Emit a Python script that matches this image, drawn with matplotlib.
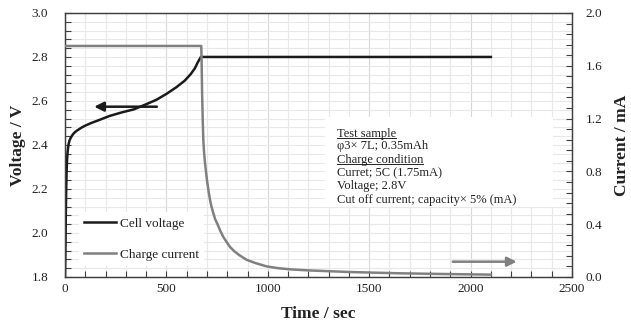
"""
Charge curve: cell voltage and charge current against time
"""

import matplotlib
matplotlib.use('Agg')
import matplotlib.pyplot as plt
from matplotlib.lines import Line2D
from matplotlib.patches import Rectangle
from matplotlib.ticker import MultipleLocator

# Cell voltage (V) against time (sec)
time_v = [0, 2, 4, 6, 8, 10, 13, 17, 22, 28, 35, 45, 60, 80, 100, 130, 170, 220, 280, 340,
          400, 450, 500, 550, 590, 620, 640, 655, 665, 670, 2100]
volt = [1.80, 1.92, 2.08, 2.20, 2.28, 2.33, 2.37, 2.40, 2.42, 2.432, 2.443, 2.455, 2.466, 2.478,
        2.488, 2.50, 2.514, 2.532, 2.548, 2.562, 2.585, 2.605, 2.632, 2.663, 2.692, 2.722,
        2.748, 2.776, 2.792, 2.80, 2.80]

# Charge current (mA) against time (sec)
time_i = [0, 672, 674, 676, 679, 682, 686, 690, 695, 700, 708, 715, 722, 731, 740, 752, 764,
          780, 797, 814, 835, 860, 896, 940, 995, 1050, 1110, 1200, 1300, 1400, 1520, 1650,
          1850, 2100]
curr = [1.75, 1.75, 1.60, 1.40, 1.20, 1.04, 0.94, 0.87, 0.80, 0.735, 0.65, 0.585, 0.535,
        0.485, 0.44, 0.40, 0.356, 0.305, 0.265, 0.227, 0.195, 0.165, 0.13, 0.105, 0.08,
        0.067, 0.058, 0.05, 0.044, 0.038, 0.033, 0.028, 0.023, 0.018]

# Arrows: (tail, head) in data coords
arrow_v = ((453, 2.574), (144, 2.574))
arrow_i = ((1912, 0.116), (2227, 0.116))

# Note lines, with a flag for underlined headings
note_lines = [
    ('Test sample', True),
    ('φ3× 7L; 0.35mAh', False),
    ('Charge condition', True),
    ('Curret; 5C (1.75mA)', False),
    ('Voltage; 2.8V', False),
    ('Cut off current; capacity× 5% (mA)', False),
]

plt.rcParams['font.family'] = ['Liberation Serif', 'DejaVu Serif']

spine_col = '#404040'
text_col = '#222222'

fig = plt.figure(figsize=(6.31, 3.28), dpi=100)
ax = fig.add_axes([0.103, 0.1555, 0.8035, 0.805])
ax2 = ax.twinx()

# Axis limits and ticks
ax.set_xlim(0, 2500)
ax.set_ylim(1.8, 3.0)
ax2.set_ylim(0.0, 2.0)
ax.xaxis.set_major_locator(MultipleLocator(500))
ax.xaxis.set_minor_locator(MultipleLocator(100))
ax.yaxis.set_major_locator(MultipleLocator(0.2))
ax.yaxis.set_minor_locator(MultipleLocator(0.04))
ax2.yaxis.set_major_locator(MultipleLocator(0.4))
ax2.yaxis.set_minor_locator(MultipleLocator(0.08))
ax.yaxis.set_major_formatter(plt.FormatStrFormatter('%.1f'))
ax2.yaxis.set_major_formatter(plt.FormatStrFormatter('%.1f'))

ax.tick_params(axis='x', which='both', direction='in', length=4, width=0.8, color=spine_col,
               labelsize=9.5, labelcolor=text_col, pad=4)
ax.tick_params(axis='y', which='both', direction='in', length=4, width=0.8, color=spine_col,
               labelsize=9.5, labelcolor=text_col, pad=12)
ax2.tick_params(axis='y', which='both', direction='in', length=4, width=0.8, color=spine_col,
                labelsize=9.5, labelcolor=text_col, pad=10)

# Light grid
ax.set_axisbelow(True)
ax.grid(which='both', color='#e8e8e8', linewidth=0.8)
ax.grid(which='major', axis='x', color='#d8d8d8', linewidth=0.8)

for a in (ax, ax2):
    for s in a.spines.values():
        s.set_color(spine_col)
        s.set_linewidth(0.9)

# White box behind the note
ax.add_patch(Rectangle((0.513, 0.265), 0.45, 0.341, transform=ax.transAxes,
                       facecolor='white', edgecolor='none', zorder=1))

# Lines
lv, = ax.plot(time_v, volt, color='#1a1a1a', linewidth=1.8, zorder=3, label='Cell voltage')
li, = ax2.plot(time_i, curr, color='#808080', linewidth=1.8, zorder=3, label='Charge current')

# Arrows
ax.annotate('', xy=arrow_v[1], xytext=arrow_v[0],
            arrowprops=dict(arrowstyle='-|>', color='#1a1a1a', lw=1.8, mutation_scale=14,
                            shrinkA=0, shrinkB=0))
ax2.annotate('', xy=arrow_i[1], xytext=arrow_i[0],
             arrowprops=dict(arrowstyle='-|>', color='#808080', lw=1.8, mutation_scale=14,
                             shrinkA=0, shrinkB=0))

# Legend
leg = ax.legend(handles=[lv, li], loc='upper left', bbox_to_anchor=(0.015, 0.27),
                fontsize=9.5, frameon=True, fancybox=False, framealpha=1,
                edgecolor='none', facecolor='white', handlelength=2.4,
                handletextpad=0.3, labelspacing=1.4, borderpad=0.4)
for t in leg.get_texts():
    t.set_color(text_col)

# Note text
ys = [0.542, 0.496, 0.443, 0.394, 0.345, 0.292]
note_texts = []
for (line, under), y in zip(note_lines, ys):
    t = ax.text(0.5365, y, line, transform=ax.transAxes, fontsize=9, color=text_col,
                va='center', ha='left', zorder=4)
    note_texts.append((t, under))

# Axis labels
ax.set_xlabel('Time / sec', fontsize=12.5, fontweight='bold', color=text_col, labelpad=8.5)
ax.set_ylabel('Voltage / V', fontsize=12.5, fontweight='bold', color=text_col, labelpad=4)
ax2.set_ylabel('Current / mA', fontsize=12.5, fontweight='bold', color=text_col, labelpad=8)

# Underline the headings of the note
fig.canvas.draw()
renderer = fig.canvas.get_renderer()
inv = fig.transFigure.inverted()
for t, under in note_texts:
    if not under:
        continue
    bb = t.get_window_extent(renderer)
    (x0, y0), (x1, _) = inv.transform([(bb.x0, bb.y0 + 2), (bb.x1, bb.y0)])
    fig.add_artist(Line2D([x0, x1], [y0, y0], transform=fig.transFigure,
                          color=text_col, linewidth=0.7))

fig.savefig('out.png', dpi=100)
